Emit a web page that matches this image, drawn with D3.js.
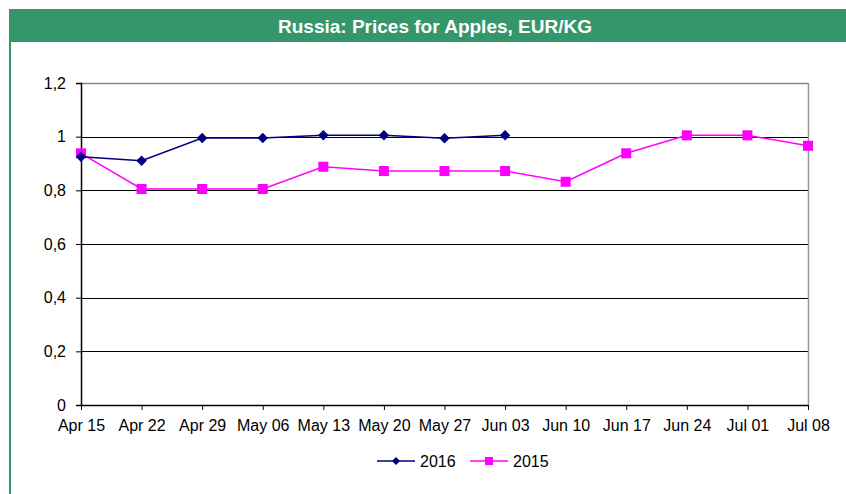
<!DOCTYPE html>
<html>
<head>
<meta charset="utf-8">
<script src="https://cdn.jsdelivr.net/npm/d3@7"></script>
<style>
  body { margin: 0; background: #fff; }
  svg { display: block; font-family: "Liberation Sans", Arial, sans-serif; }
</style>
</head>
<body>
<div id="chart"></div>
<script>
// weeks on the x axis
const weeks = ["Apr 15", "Apr 22", "Apr 29", "May 06", "May 13", "May 20", "May 27",
    "Jun 03", "Jun 10", "Jun 17", "Jun 24", "Jul 01", "Jul 08"];

// prices, EUR/KG
const prices2016 = [0.925, 0.91, 0.995, 0.995, 1.005, 1.005, 0.994, 1.005];
const prices2015 = [0.938, 0.805, 0.805, 0.805, 0.888, 0.872, 0.872, 0.872, 0.832, 0.938, 1.005, 1.005, 0.966];

const yTicks = [0, 0.2, 0.4, 0.6, 0.8, 1, 1.2];

const W = 846, H = 494;
const margin = { top: 83, right: 38, bottom: 89, left: 81 },
    width = W - margin.left - margin.right,
    height = H - margin.top - margin.bottom;

const svg = d3.select("#chart")
    .append("svg")
    .attr("width", W)
    .attr("height", H);

// green frame: header band + left rule
svg.append("rect")
    .attr("x", 9).attr("y", 9)
    .attr("width", W - 9).attr("height", 33)
    .attr("fill", "#34966a");
svg.append("rect")
    .attr("x", 9).attr("y", 42)
    .attr("width", 2).attr("height", H - 42)
    .attr("fill", "#34966a");

svg.append("text")
    .attr("x", 435).attr("y", 33)
    .attr("text-anchor", "middle")
    .attr("fill", "#fff")
    .style("font-size", "19px")
    .style("font-weight", "bold")
    .text("Russia: Prices for Apples, EUR/KG");

const g = svg.append("g")
    .attr("transform", `translate(${margin.left}, ${margin.top})`);

const x = d3.scalePoint()
    .domain(weeks)
    .range([0, width]);

const y = d3.scaleLinear()
    .domain([0, 1.2])
    .range([height, 0]);

// horizontal gridlines
g.selectAll(".grid")
    .data(yTicks.filter(d => d > 0))
    .join("line")
    .attr("class", "grid")
    .attr("x1", 0).attr("x2", width)
    .attr("y1", d => Math.round(y(d)) + 0.5)
    .attr("y2", d => Math.round(y(d)) + 0.5)
    .attr("stroke", d => d === 1.2 ? "#888" : "#000")
    .attr("stroke-width", d => d === 1.2 ? 1.5 : 1);

// right plot border
g.append("line")
    .attr("x1", width + 0.5).attr("x2", width + 0.5)
    .attr("y1", 0).attr("y2", height)
    .attr("stroke", "#999")
    .attr("stroke-width", 1.5);

// Y axis
const yAxis = g.append("g")
    .call(d3.axisLeft(y).tickValues(yTicks).tickSize(5).tickPadding(10)
        .tickFormat(d => d3.format("~g")(d).replace(".", ",")));
yAxis.select(".domain").attr("stroke", "#000").attr("stroke-width", 1.5);
yAxis.selectAll("text").style("font-size", "16px").attr("fill", "#000");

// X axis
const xAxis = g.append("g")
    .attr("transform", `translate(0, ${height})`)
    .call(d3.axisBottom(x).tickSize(5).tickPadding(10).tickSizeOuter(0));
xAxis.select(".domain").attr("stroke", "#000").attr("stroke-width", 1.5);
xAxis.selectAll("text").style("font-size", "16px").attr("fill", "#000");

const line = d3.line()
    .x((d, i) => x(weeks[i]))
    .y(d => y(d));

// 2015 series
g.append("path")
    .datum(prices2015)
    .attr("fill", "none")
    .attr("stroke", "#ff00ff")
    .attr("stroke-width", 1.5)
    .attr("d", line);
g.selectAll(".sq")
    .data(prices2015)
    .join("rect")
    .attr("class", "sq")
    .attr("x", (d, i) => x(weeks[i]) - 5)
    .attr("y", d => y(d) - 5)
    .attr("width", 10).attr("height", 10)
    .attr("fill", "#ff00ff");

// 2016 series
g.append("path")
    .datum(prices2016)
    .attr("fill", "none")
    .attr("stroke", "#000080")
    .attr("stroke-width", 1.5)
    .attr("d", line);
const diamond = d3.symbol().type(d3.symbolDiamond2).size(70);
g.selectAll(".dm")
    .data(prices2016)
    .join("path")
    .attr("class", "dm")
    .attr("transform", (d, i) => `translate(${x(weeks[i])}, ${y(d)})`)
    .attr("d", diamond)
    .attr("fill", "#000080");

// legend
const legend = svg.append("g").attr("transform", "translate(0, 461)");
const items = [
    { name: "2016", color: "#000080", x: 377, marker: "diamond" },
    { name: "2015", color: "#ff00ff", x: 470, marker: "square" }
];
items.forEach(it => {
    legend.append("line")
        .attr("x1", it.x).attr("x2", it.x + 38)
        .attr("y1", 0).attr("y2", 0)
        .attr("stroke", it.color)
        .attr("stroke-width", 1.5);
    if (it.marker === "diamond") {
        legend.append("path")
            .attr("transform", `translate(${it.x + 19}, 0)`)
            .attr("d", d3.symbol().type(d3.symbolDiamond2).size(40))
            .attr("fill", it.color);
    } else {
        legend.append("rect")
            .attr("x", it.x + 15).attr("y", -4)
            .attr("width", 8).attr("height", 8)
            .attr("fill", it.color);
    }
    legend.append("text")
        .attr("x", it.x + 43).attr("y", 6)
        .style("font-size", "16px")
        .attr("fill", "#000")
        .text(it.name);
});
</script>
</body>
</html>
